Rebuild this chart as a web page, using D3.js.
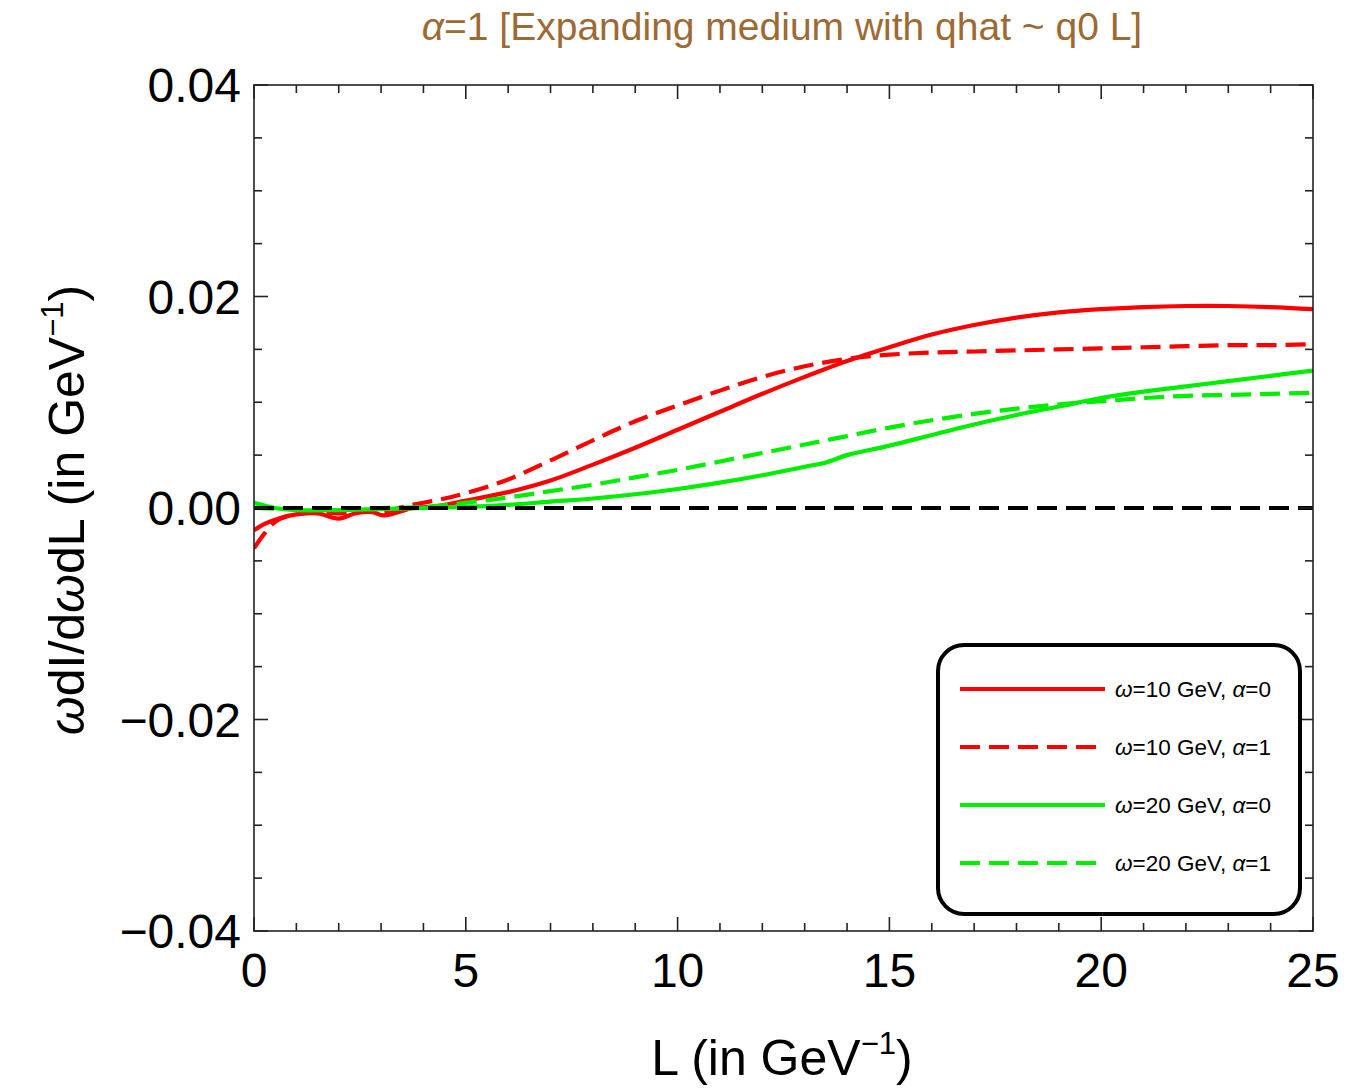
<!DOCTYPE html>
<html>
<head>
<meta charset="utf-8">
<script src="https://cdn.jsdelivr.net/npm/d3@7"></script>
<style>
html,body{margin:0;padding:0;background:#fff;}
svg{display:block;font-family:"Liberation Sans",Arial,sans-serif;}
</style>
</head>
<body>
<svg id="chart" width="1356" height="1090"></svg>
<script>
// ---- data ----
const titleText = "=1 [Expanding medium with qhat ~ q0 L]";
const xTicks = [0, 5, 10, 15, 20, 25];
const yTicks = [-0.04, -0.02, 0, 0.02, 0.04];
const yTickLabels = ["\u22120.04", "\u22120.02", "0.00", "0.02", "0.04"];

const L_red0 = [0, 0.25, 0.5, 1, 1.5, 2, 2.4, 2.8, 3.05, 3.4, 3.75, 4.2, 5, 6, 7, 8, 9, 10, 11, 12, 13, 14, 15, 16, 17, 18, 19, 20, 21, 22, 23, 24, 25];
const v_red0 = [-0.0021, -0.0015, -0.0011, -0.0006, -0.0005, -0.0010, -0.0005, -0.0004, -0.0007, -0.0004, 0.0000, 0.0001, 0.0007, 0.0015, 0.0026, 0.0041, 0.0057, 0.0074, 0.0091, 0.0108, 0.0124, 0.0139, 0.0152, 0.0164, 0.0173, 0.0180, 0.0185, 0.0188, 0.0190, 0.0191, 0.0191, 0.0190, 0.0188];

const L_red1 = [0, 0.25, 0.5, 0.75, 1, 1.5, 2, 2.5, 3, 3.5, 4, 4.5, 5, 6, 7, 8, 9, 10, 11, 12, 13, 14, 15, 16, 17, 18, 19, 20, 21, 22, 23, 24, 25];
const v_red1 = [-0.0038, -0.0024, -0.0013, -0.0008, -0.0006, -0.0004, -0.0005, -0.0003, -0.0004, 0.0001, 0.0005, 0.0009, 0.0014, 0.0027, 0.0045, 0.0064, 0.0082, 0.0097, 0.0111, 0.0124, 0.0134, 0.0141, 0.0145, 0.0147, 0.0148, 0.0149, 0.0150, 0.0151, 0.0152, 0.0153, 0.0154, 0.0154, 0.0155];

const L_grn0 = [0, 0.5, 1, 2, 3, 4, 5, 6, 7, 8, 9, 10, 11, 12, 13, 13.5, 14, 15, 16, 17, 18, 19, 20, 21, 22, 23, 24, 25];
const v_grn0 = [0.0005, 0.0000, -0.0002, -0.0002, -0.0001, 0.0000, 0.0001, 0.0003, 0.0006, 0.0009, 0.0013, 0.0018, 0.0024, 0.0031, 0.0039, 0.0043, 0.0050, 0.0059, 0.0069, 0.0079, 0.0088, 0.0096, 0.0104, 0.0110, 0.0115, 0.0120, 0.0125, 0.0130];

const L_grn1 = [0, 1, 2, 3, 4, 5, 6, 7, 8, 9, 10, 11, 12, 13, 14, 15, 16, 17, 18, 19, 20, 21, 22, 23, 24, 25];
const v_grn1 = [0.0000, -0.0001, -0.0001, 0.0000, 0.0001, 0.0005, 0.0010, 0.0016, 0.0022, 0.0029, 0.0036, 0.0044, 0.0052, 0.0060, 0.0068, 0.0076, 0.0083, 0.0089, 0.0094, 0.0098, 0.0101, 0.0104, 0.0106, 0.0107, 0.0108, 0.0109];

const seriesNames = ["\u03c9=10 GeV, \u03b1=0", "\u03c9=10 GeV, \u03b1=1", "\u03c9=20 GeV, \u03b1=0", "\u03c9=20 GeV, \u03b1=1"];

// ---- layout ----
const svg = d3.select("#chart");
const pL = 254, pR = 1313, pT = 85, pB = 931;
const x = d3.scaleLinear().domain([0, 25]).range([pL, pR]);
const y = d3.scaleLinear().domain([-0.04, 0.04]).range([pB, pT]);

const series = [
  {L: L_red0, v: v_red0, color: "#ff0000", dash: null, name: seriesNames[0]},
  {L: L_red1, v: v_red1, color: "#ff0000", dash: "20,9", name: seriesNames[1]},
  {L: L_grn0, v: v_grn0, color: "#00ee00", dash: null, name: seriesNames[2]},
  {L: L_grn1, v: v_grn1, color: "#00ee00", dash: "20,9", name: seriesNames[3]}
];

svg.append("clipPath").attr("id", "clip").append("rect")
  .attr("x", pL).attr("y", pT).attr("width", pR - pL).attr("height", pB - pT);

const line = d3.line().x(d => x(d[0])).y(d => y(d[1])).curve(d3.curveCatmullRom.alpha(0.5));

const plot = svg.append("g").attr("clip-path", "url(#clip)");
series.forEach(s => {
  const pts = s.L.map((l, i) => [l, s.v[i]]);
  plot.append("path").attr("d", line(pts)).attr("fill", "none")
    .attr("stroke", s.color).attr("stroke-width", 4.2)
    .attr("stroke-dasharray", s.dash);
});
// zero line
plot.append("line").attr("x1", x(0)).attr("x2", x(25)).attr("y1", y(0)).attr("y2", y(0))
  .attr("stroke", "#000").attr("stroke-width", 4.2).attr("stroke-dasharray", "20,9");

// frame
svg.append("rect").attr("x", pL).attr("y", pT).attr("width", pR - pL).attr("height", pB - pT)
  .attr("fill", "none").attr("stroke", "#222").attr("stroke-width", 1.6);

// ticks (inward, all four sides)
const xMinor = d3.range(0, 25.01, 1);
const yMinor = d3.range(-0.04, 0.0401, 0.005);
const tk = svg.append("g").attr("stroke", "#222").attr("stroke-width", 1.6);
xMinor.forEach(t => {
  const major = Math.abs(t % 5) < 1e-6;
  const len = major ? 14 : 8;
  tk.append("line").attr("x1", x(t)).attr("x2", x(t)).attr("y1", pB).attr("y2", pB - len);
  tk.append("line").attr("x1", x(t)).attr("x2", x(t)).attr("y1", pT).attr("y2", pT + len);
});
yMinor.forEach(t => {
  const major = Math.abs(Math.round(t * 1000) % 20) < 1e-6;
  const len = major ? 14 : 8;
  tk.append("line").attr("x1", pL).attr("x2", pL + len).attr("y1", y(t)).attr("y2", y(t));
  tk.append("line").attr("x1", pR).attr("x2", pR - len).attr("y1", y(t)).attr("y2", y(t));
});

// tick labels
svg.append("g").selectAll("text").data(xTicks).join("text")
  .attr("x", d => x(d)).attr("y", 987).attr("text-anchor", "middle")
  .attr("font-size", 48).attr("fill", "#000").text(d => d);
svg.append("g").selectAll("text").data(yTicks).join("text")
  .attr("x", 241).attr("y", d => y(d) + 17).attr("text-anchor", "end")
  .attr("font-size", 48).attr("fill", "#000").text((d, i) => yTickLabels[i]);

// title
const tt = svg.append("text").attr("x", 782).attr("y", 40).attr("text-anchor", "middle")
  .attr("font-size", 39).attr("fill", "#9c6a35");
tt.append("tspan").attr("font-style", "italic").text("\u03b1");
tt.append("tspan").text(titleText);

// x label
const xl = svg.append("text").attr("x", 782).attr("y", 1075).attr("text-anchor", "middle")
  .attr("font-size", 50).attr("fill", "#000");
xl.append("tspan").text("L (in GeV");
xl.append("tspan").attr("font-size", 31).attr("dy", -21).text("\u22121");
xl.append("tspan").attr("dy", 21).text(")");

// y label
const yl = svg.append("text").attr("transform", "translate(84,510) rotate(-90)")
  .attr("text-anchor", "middle").attr("font-size", 50).attr("fill", "#000");
yl.append("tspan").attr("font-style", "italic").text("\u03c9");
yl.append("tspan").text("dI/d");
yl.append("tspan").attr("font-style", "italic").text("\u03c9");
yl.append("tspan").text("dL (in GeV");
yl.append("tspan").attr("font-size", 31).attr("dy", -21).text("\u22121");
yl.append("tspan").attr("dy", 21).text(")");

// legend
const lg = svg.append("g");
lg.append("rect").attr("x", 938).attr("y", 645).attr("width", 362).attr("height", 269)
  .attr("rx", 26).attr("ry", 26).attr("fill", "#fff").attr("stroke", "#000").attr("stroke-width", 4);
const legY = d3.scalePoint().domain(seriesNames).range([689, 863]);
series.forEach(s => {
  const yy = legY(s.name);
  lg.append("line").attr("x1", 960).attr("x2", s.dash ? 1097 : 1105).attr("y1", yy).attr("y2", yy)
    .attr("stroke", s.color).attr("stroke-width", 4.2).attr("stroke-dasharray", s.dash);
  const t = lg.append("text").attr("x", 1115).attr("y", yy + 8).attr("font-size", 22.5).attr("fill", "#000");
  const parts = s.name.split(/(\u03c9|\u03b1)/).filter(p => p.length);
  parts.forEach(p => {
    const sp = t.append("tspan").text(p);
    if (p === "\u03c9" || p === "\u03b1") sp.attr("font-style", "italic");
  });
});
</script>
</body>
</html>
